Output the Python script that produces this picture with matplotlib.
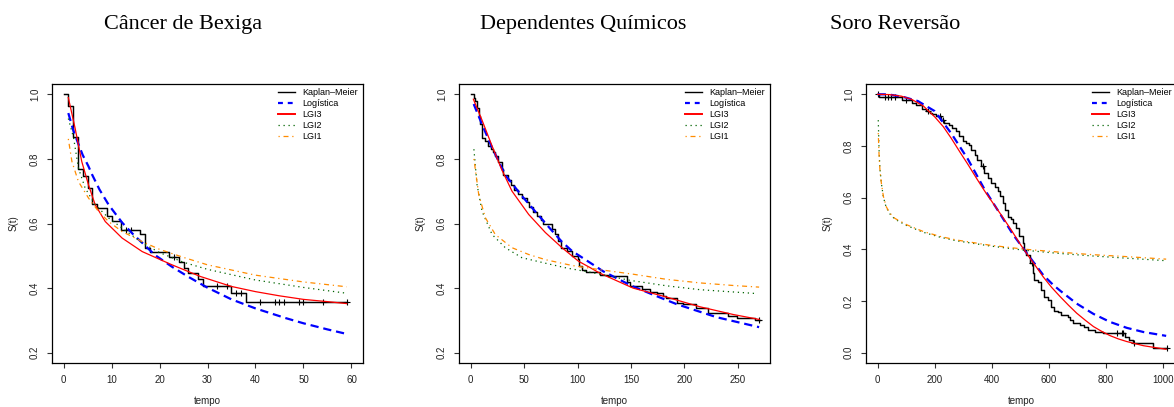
import numpy as np
import matplotlib
matplotlib.use("Agg")
import matplotlib.pyplot as plt
from matplotlib.lines import Line2D

plt.rcParams['font.family'] = ['Liberation Sans', 'DejaVu Sans']

# ---- Câncer de Bexiga ----
bex_km_t = [0, 1, 2, 3, 4, 5, 6, 7, 9, 10, 12, 16, 17, 18, 22, 24, 25, 26, 28, 29, 35, 38, 59]
bex_km_s = [1.0, 0.965, 0.868, 0.770, 0.746, 0.709, 0.659, 0.647, 0.624, 0.608, 0.580, 0.567,
            0.524, 0.511, 0.497, 0.480, 0.463, 0.447, 0.429, 0.407, 0.384, 0.356, 0.356]
bex_cens = [13, 14, 23, 32, 34, 36, 37, 41, 44, 45, 46, 49, 50, 54, 59]
bex_log_t = [1, 2, 3, 4, 5.2, 6, 7.5, 9.4, 12.2, 14.6, 16.4, 19, 22.6, 26, 29.9, 35, 40, 46.3, 50, 55, 59]
bex_log_s = [0.942, 0.89, 0.85, 0.812, 0.777, 0.75, 0.705, 0.658, 0.603, 0.565, 0.54, 0.503,
             0.466, 0.435, 0.402, 0.365, 0.337, 0.307, 0.291, 0.272, 0.258]
bex_lgi3_t = [1, 2.4, 3.8, 5.2, 6.6, 8.7, 12.2, 16.4, 22.6, 28.5, 35, 40, 45, 50, 55, 59]
bex_lgi3_s = [0.99, 0.896, 0.792, 0.72, 0.658, 0.606, 0.555, 0.513, 0.472, 0.436, 0.405,
              0.389, 0.376, 0.365, 0.358, 0.352]
bex_lgi2_t = [1, 2.1, 3.1, 4.5, 6.6, 9.4, 12.2, 16.4, 20, 25, 30, 40, 50, 59]
bex_lgi2_s = [0.925, 0.865, 0.772, 0.71, 0.658, 0.617, 0.586, 0.54, 0.51, 0.48, 0.458, 0.425, 0.402, 0.384]
bex_lgi1_t = [1, 1.75, 3.1, 5.2, 7.3, 9.4, 12.2, 16.4, 20, 25, 30, 40, 50, 59]
bex_lgi1_s = [0.862, 0.792, 0.73, 0.679, 0.637, 0.606, 0.575, 0.544, 0.52, 0.495, 0.472, 0.44, 0.419, 0.404]

# ---- Dependentes Químicos ----
dep_km_t = [0, 3, 4, 6, 7.5, 9, 10.5, 13, 16, 19, 21, 23, 26, 29, 30.5, 35, 38, 41, 44, 48, 53, 55,
            58, 62, 66, 68, 76, 79, 82, 85, 90, 95, 100, 101, 104, 108, 121, 129, 146, 149, 160,
            168, 174, 180, 183, 193, 199, 211, 222, 241, 249, 266, 271]
dep_km_s = [1.0, 0.99, 0.98, 0.959, 0.933, 0.907, 0.866, 0.855, 0.84, 0.83, 0.82, 0.81, 0.79,
            0.768, 0.75, 0.735, 0.72, 0.705, 0.69, 0.678, 0.668, 0.65, 0.636, 0.623, 0.61, 0.597,
            0.582, 0.568, 0.545, 0.525, 0.514, 0.5, 0.49, 0.468, 0.457, 0.449, 0.442, 0.436, 0.42,
            0.405, 0.397, 0.389, 0.384, 0.376, 0.368, 0.355, 0.35, 0.337, 0.323, 0.313, 0.308,
            0.301, 0.301]
dep_cens = [270]
dep_log_t = [2.8, 10.6, 20, 32.4, 48, 63.6, 76, 85.5, 94.8, 116.7, 124, 150, 171, 193, 230, 270]
dep_log_s = [0.97, 0.907, 0.835, 0.75, 0.685, 0.625, 0.578, 0.543, 0.515, 0.468, 0.452, 0.408,
             0.379, 0.35, 0.31, 0.279]
dep_lgi3_t = [2.5, 10.6, 20, 29.3, 38.7, 54.3, 69.9, 85.5, 101, 112, 121, 152, 183.5, 214.7, 246, 270]
dep_lgi3_s = [0.985, 0.92, 0.84, 0.765, 0.70, 0.628, 0.572, 0.525, 0.483, 0.463, 0.446, 0.40,
              0.372, 0.342, 0.318, 0.303]
dep_lgi2_t = [3, 5.9, 10.6, 20, 32.4, 48, 70, 90, 112, 149, 183.5, 214.7, 268]
dep_lgi2_s = [0.83, 0.721, 0.638, 0.566, 0.525, 0.494, 0.477, 0.462, 0.449, 0.424, 0.407, 0.395, 0.383]
dep_lgi1_t = [3, 7.5, 13.7, 23, 38.7, 54.3, 70, 94.8, 121, 152, 183.5, 214.7, 246, 270]
dep_lgi1_s = [0.80, 0.69, 0.618, 0.566, 0.525, 0.504, 0.488, 0.47, 0.457, 0.443, 0.427, 0.416, 0.408, 0.403]

# ---- Soro Reversão ----
soro_km_t = [0, 6, 85, 120, 135, 155, 168, 182, 192, 205, 222, 234, 250, 262, 275, 287, 298, 310,
             322, 328, 340, 350, 362, 374, 386, 398, 410, 421, 428, 439, 446, 457, 468, 475, 486,
             497, 509, 515, 521, 535, 544, 550, 562, 573, 585, 597, 609, 620, 632, 644, 667, 673,
             685, 708, 725, 737, 762, 790, 868, 883, 897, 965, 1015]
soro_km_s = [1.0, 0.988, 0.977, 0.966, 0.957, 0.943, 0.936, 0.929, 0.923, 0.917, 0.902, 0.889,
             0.882, 0.870, 0.857, 0.837, 0.818, 0.811, 0.805, 0.786, 0.766, 0.747, 0.721, 0.695,
             0.676, 0.656, 0.643, 0.624, 0.605, 0.579, 0.553, 0.527, 0.517, 0.501, 0.482, 0.45,
             0.424, 0.398, 0.379, 0.346, 0.307, 0.282, 0.272, 0.243, 0.217, 0.204, 0.178, 0.163,
             0.156, 0.146, 0.14, 0.127, 0.114, 0.107, 0.101, 0.088, 0.081, 0.075, 0.062, 0.049,
             0.036, 0.017, 0.017]
soro_cens = [2, 24, 36, 48, 60, 100, 178, 217, 229, 368, 540, 839, 856, 862, 899, 1015]
soro_log_t = [0, 36, 90, 141, 200, 258, 317, 375, 434, 475, 523, 581, 616, 640, 698, 757, 815, 874, 932, 1012]
soro_log_s = [1.0, 1.0, 0.99, 0.974, 0.935, 0.849, 0.748, 0.632, 0.529, 0.457, 0.385, 0.30,
              0.262, 0.24, 0.19, 0.15, 0.119, 0.096, 0.08, 0.065]
soro_lgi3_t = [0, 40, 83, 120, 160, 200, 230, 258, 290, 317, 345, 375, 405, 434, 469, 500, 534,
               560, 581, 610, 640, 670, 698, 730, 757, 785, 815, 845, 874, 932, 1012]
soro_lgi3_s = [1.0, 0.999, 0.993, 0.98, 0.955, 0.913, 0.875, 0.83, 0.774, 0.728, 0.678, 0.626,
               0.578, 0.532, 0.474, 0.42, 0.366, 0.326, 0.293, 0.253, 0.217, 0.183, 0.153, 0.124,
               0.101, 0.083, 0.066, 0.053, 0.043, 0.027, 0.013]
soro_lgi2_t = [2, 5, 8, 13, 20, 30, 43, 60, 102, 160, 219, 277, 394, 511, 628, 745, 870, 1012]
soro_lgi2_s = [0.90, 0.78, 0.71, 0.655, 0.602, 0.562, 0.537, 0.517, 0.492, 0.466, 0.447, 0.433,
               0.413, 0.397, 0.385, 0.375, 0.366, 0.356]
soro_lgi1_t = [2, 5, 8, 13, 20, 30, 43, 60, 102, 160, 219, 277, 394, 511, 628, 745, 870, 1012]
soro_lgi1_s = [0.85, 0.76, 0.705, 0.655, 0.605, 0.565, 0.54, 0.52, 0.495, 0.469, 0.45, 0.436,
               0.416, 0.401, 0.39, 0.38, 0.372, 0.362]

titles = ["Câncer de Bexiga", "Dependentes Químicos", "Soro Reversão"]
legend_labels = ["Kaplan–Meier", "Logística", "LGI3", "LGI2", "LGI1"]

panels = [
    dict(km=(bex_km_t, bex_km_s), cens=bex_cens, log=(bex_log_t, bex_log_s),
         lgi3=(bex_lgi3_t, bex_lgi3_s), lgi2=(bex_lgi2_t, bex_lgi2_s), lgi1=(bex_lgi1_t, bex_lgi1_s),
         xlim=(-2.4, 62.4), ylim=(0.168, 1.032), xticks=np.arange(0, 61, 10),
         yticks=[0.2, 0.4, 0.6, 0.8, 1.0], left=52, title_x=183),
    dict(km=(dep_km_t, dep_km_s), cens=dep_cens, log=(dep_log_t, dep_log_s),
         lgi3=(dep_lgi3_t, dep_lgi3_s), lgi2=(dep_lgi2_t, dep_lgi2_s), lgi1=(dep_lgi1_t, dep_lgi1_s),
         xlim=(-10.95, 280.2), ylim=(0.168, 1.032), xticks=np.arange(0, 251, 50),
         yticks=[0.2, 0.4, 0.6, 0.8, 1.0], left=459, title_x=583),
    dict(km=(soro_km_t, soro_km_s), cens=soro_cens, log=(soro_log_t, soro_log_s),
         lgi3=(soro_lgi3_t, soro_lgi3_s), lgi2=(soro_lgi2_t, soro_lgi2_s), lgi1=(soro_lgi1_t, soro_lgi1_s),
         xlim=(-41, 1050), ylim=(-0.04, 1.04), xticks=np.arange(0, 1001, 200),
         yticks=[0.0, 0.2, 0.4, 0.6, 0.8, 1.0], left=866, title_x=895),
]

W, H = 1174, 407
fig = plt.figure(figsize=(W / 100, H / 100), dpi=100)

for p, title in zip(panels, titles):
    ax = fig.add_axes([p['left'] / W, 1 - 363 / H, 311 / W, 279 / H])
    kt, ks = np.array(p['km'][0]), np.array(p['km'][1])
    ax.step(kt, ks, where='post', color='black', lw=1.05)
    # censoring marks sit on the KM step curve
    idx = np.searchsorted(kt, p['cens'], side='right') - 1
    ax.plot(p['cens'], ks[idx], '+', color='black', ms=5, mew=0.8)
    ax.plot(*p['log'], color='blue', lw=1.6, dashes=(3.7, 2.2))
    ax.plot(*p['lgi3'], color='red', lw=0.9)
    ax.plot(*p['lgi2'], color='darkgreen', lw=0.9, dashes=(1, 3))
    ax.plot(*p['lgi1'], color='darkorange', lw=0.9, dashes=(1, 3, 4, 3))

    ax.set_xlim(*p['xlim'])
    ax.set_ylim(*p['ylim'])
    ax.set_xticks(p['xticks'])
    ax.set_yticks(p['yticks'])
    ax.set_yticklabels([f"{v:.1f}" for v in p['yticks']], rotation=90, va='center')
    ax.tick_params(direction='out', length=3.6, width=0.8, labelsize=7, color='#333333',
                   labelcolor='#222222')
    ax.tick_params(axis='x', pad=5)
    ax.tick_params(axis='y', pad=5)
    for s in ax.spines.values():
        s.set_linewidth(0.9)
    ax.set_xlabel("tempo", fontsize=7, color='#222222')
    ax.set_ylabel("S(t)", fontsize=7, color='#222222')
    ax.xaxis.set_label_coords(0.5, -0.117)
    ax.yaxis.set_label_coords(-0.107, 0.5)

    handles = [Line2D([], [], color='black', lw=1.0),
               Line2D([], [], color='blue', lw=1.6, dashes=(2.2, 2.2)),
               Line2D([], [], color='red', lw=1.4),
               Line2D([], [], color='darkgreen', lw=0.9, dashes=(1, 3)),
               Line2D([], [], color='darkorange', lw=0.9, dashes=(1, 3, 4, 3))]
    ax.legend(handles, legend_labels, loc='upper left', bbox_to_anchor=(0.728, 0.985),
              frameon=False, fontsize=6.5, handlelength=1.8, handletextpad=0.85,
              labelspacing=0.22, borderpad=0, borderaxespad=0)

    fig.text(p['title_x'] / W, 1 - 29 / H, title, ha='center', va='baseline',
             fontsize=16, family=['Liberation Serif', 'DejaVu Serif'])

fig.savefig("out.png", dpi=100)
